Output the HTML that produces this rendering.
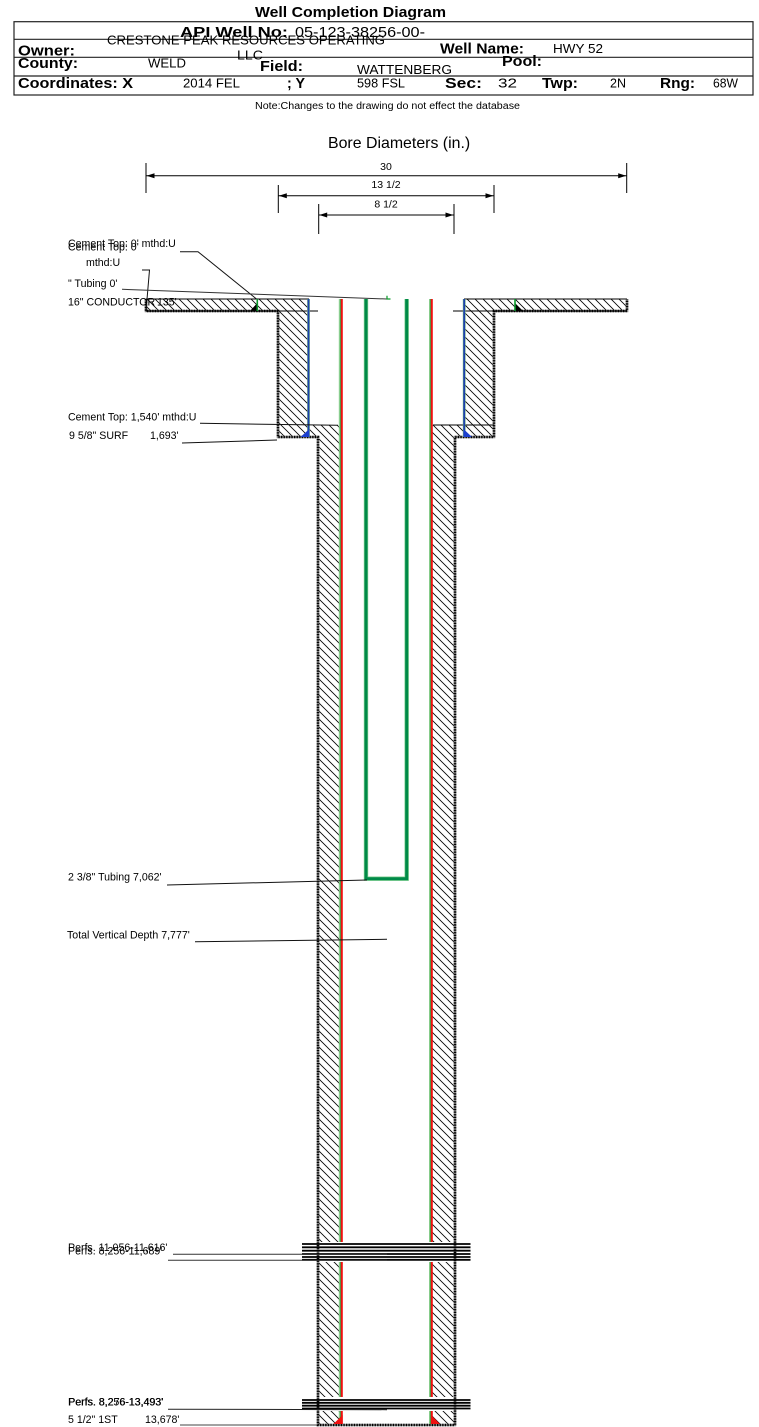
<!DOCTYPE html>
<html>
<head>
<meta charset="utf-8">
<style>
html,body{margin:0;padding:0;background:#fff;}
svg{display:block;}
text{font-family:"Liberation Sans",Arial,sans-serif;fill:#000;}
.b{font-weight:bold;}
.h{font-size:14.5px;}
.v{font-size:12.5px;}
.s{font-size:10.6px;}
</style>
</head>
<body>
<svg width="759" height="1427" viewBox="0 0 759 1427" xmlns="http://www.w3.org/2000/svg">
<defs>
<pattern id="hp" width="8" height="8" patternUnits="userSpaceOnUse">
<path d="M0,0L8,8M-1,7L1,9M7,-1L9,1" stroke="#000" stroke-width="0.8" fill="none"/>
</pattern>
</defs>
<rect width="759" height="1427" fill="#fff"/>

<!-- Title & header table -->
<text class="b" x="255" y="17" font-size="15" textLength="191" lengthAdjust="spacingAndGlyphs">Well Completion Diagram</text>
<g stroke="#222" stroke-width="1.2" fill="none">
<rect x="14" y="21.7" width="739" height="73.3"/>
<line x1="14" y1="39.3" x2="753" y2="39.3"/>
<line x1="14" y1="57.3" x2="753" y2="57.3"/>
<line x1="14" y1="76" x2="753" y2="76"/>
</g>
<text class="b h" x="180" y="37" textLength="108" lengthAdjust="spacingAndGlyphs">API Well No:</text>
<text class="h" x="295" y="37" font-weight="normal" textLength="130" lengthAdjust="spacingAndGlyphs">05-123-38256-00-</text>
<text class="v" x="107" y="44.5" textLength="278" lengthAdjust="spacingAndGlyphs">CRESTONE PEAK RESOURCES OPERATING</text>
<text class="v" x="237" y="59.5" textLength="26" lengthAdjust="spacingAndGlyphs">LLC</text>
<text class="b h" x="18" y="55.5" textLength="57" lengthAdjust="spacingAndGlyphs">Owner:</text>
<text class="b h" x="440" y="53.5" textLength="84" lengthAdjust="spacingAndGlyphs">Well Name:</text>
<text class="v" x="553" y="53" textLength="50" lengthAdjust="spacingAndGlyphs">HWY 52</text>
<text class="b h" x="18" y="68" textLength="60" lengthAdjust="spacingAndGlyphs">County:</text>
<text class="v" x="148" y="67.5" textLength="38" lengthAdjust="spacingAndGlyphs">WELD</text>
<text class="b h" x="260" y="71" textLength="43" lengthAdjust="spacingAndGlyphs">Field:</text>
<text class="v" x="357" y="74" textLength="95" lengthAdjust="spacingAndGlyphs">WATTENBERG</text>
<text class="b h" x="502" y="66" textLength="40" lengthAdjust="spacingAndGlyphs">Pool:</text>
<text class="b h" x="18" y="88" textLength="115" lengthAdjust="spacingAndGlyphs">Coordinates: X</text>
<text class="v" x="183" y="87.5" textLength="57" lengthAdjust="spacingAndGlyphs">2014 FEL</text>
<text class="b h" x="287" y="88" textLength="18" lengthAdjust="spacingAndGlyphs">; Y</text>
<text class="v" x="357" y="87.5" textLength="48" lengthAdjust="spacingAndGlyphs">598 FSL</text>
<text class="b h" x="445" y="88" textLength="37" lengthAdjust="spacingAndGlyphs">Sec:</text>
<text class="v" x="498" y="87.5" textLength="19" lengthAdjust="spacingAndGlyphs">32</text>
<text class="b h" x="542" y="88" textLength="36" lengthAdjust="spacingAndGlyphs">Twp:</text>
<text class="v" x="610" y="87.5" textLength="16" lengthAdjust="spacingAndGlyphs">2N</text>
<text class="b h" x="660" y="88" textLength="35" lengthAdjust="spacingAndGlyphs">Rng:</text>
<text class="v" x="713" y="87.5" textLength="25" lengthAdjust="spacingAndGlyphs">68W</text>
<text x="255" y="109" font-size="9.8" textLength="265" lengthAdjust="spacingAndGlyphs">Note:Changes to the drawing do not effect the database</text>

<!-- Bore diameters -->
<text x="328" y="148" font-size="15.9">Bore Diameters (in.)</text>
<g stroke="#000" stroke-width="1" fill="none">
<line x1="146" y1="175.7" x2="626.7" y2="175.7"/>
<line x1="146" y1="163" x2="146" y2="193"/>
<line x1="626.7" y1="163" x2="626.7" y2="193"/>
<line x1="278.3" y1="195.7" x2="494" y2="195.7"/>
<line x1="278.3" y1="185" x2="278.3" y2="213"/>
<line x1="494" y1="185" x2="494" y2="213"/>
<line x1="318.7" y1="215" x2="454" y2="215"/>
<line x1="318.7" y1="204" x2="318.7" y2="234"/>
<line x1="454" y1="204" x2="454" y2="234"/>
</g>
<g fill="#000">
<polygon points="146.5,175.7 154.5,173.2 154.5,178.2"/>
<polygon points="626.2,175.7 618.2,173.2 618.2,178.2"/>
<polygon points="278.8,195.7 286.8,193.2 286.8,198.2"/>
<polygon points="493.5,195.7 485.5,193.2 485.5,198.2"/>
<polygon points="319.2,215 327.2,212.5 327.2,217.5"/>
<polygon points="453.5,215 445.5,212.5 445.5,217.5"/>
</g>
<text x="386" y="170" font-size="10.5" text-anchor="middle">30</text>
<text x="386" y="188" font-size="10.5" text-anchor="middle">13 1/2</text>
<text x="386" y="207.7" font-size="10.5" text-anchor="middle">8 1/2</text>

<!-- Hatched cement regions -->
<g fill="url(#hp)">
<rect x="146" y="299" width="163" height="12"/>
<rect x="278" y="311" width="31" height="114"/>
<rect x="278" y="425" width="62" height="12"/>
<rect x="318" y="437" width="22" height="805"/>
<rect x="318" y="1262" width="22" height="135"/>
<rect x="318" y="1411" width="22" height="13"/>
<rect x="464" y="299" width="163" height="12"/>
<rect x="464" y="311" width="30" height="114"/>
<rect x="432" y="425" width="62" height="12"/>
<rect x="432" y="437" width="23" height="805"/>
<rect x="432" y="1262" width="23" height="135"/>
<rect x="432" y="1411" width="23" height="13"/>
</g>

<!-- Outer boundary (cement / hole wall) -->
<path d="M146,299 L146,311 L278,311 L278,437 L318,437 L318,1425 L455,1425 L455,437 L494,437 L494,311 L627,311 L627,299" fill="none" stroke="#888" stroke-width="2.6"/>
<path d="M146,299 L146,311 L278,311 L278,437 L318,437 L318,1425 L455,1425 L455,437 L494,437 L494,311 L627,311 L627,299" fill="none" stroke="#000" stroke-width="2.6" stroke-dasharray="1.3 1.3"/>
<g stroke="#000" stroke-width="1.1">
<line x1="146" y1="299" x2="309" y2="299"/>
<line x1="464" y1="299" x2="627" y2="299"/>
<line x1="146" y1="311" x2="318" y2="311"/>
<line x1="453" y1="311" x2="627" y2="311"/>
<line x1="433" y1="425" x2="494" y2="425"/>
</g>

<!-- Surface casing (blue) -->
<g stroke="#7fbf7f" stroke-width="2.8">
<line x1="308.5" y1="299" x2="308.5" y2="437"/>
<line x1="464.2" y1="299" x2="464.2" y2="437"/>
</g>
<g stroke="#1c3fae" stroke-width="1.8">
<line x1="308.5" y1="299" x2="308.5" y2="437"/>
<line x1="464.2" y1="299" x2="464.2" y2="437"/>
</g>
<polygon points="300.5,437 309.3,437 309.3,429" fill="#1c3fce"/>
<polygon points="463.5,437 472,437 463.5,429" fill="#1c3fce"/>

<!-- Conductor cement top markers -->
<polygon points="250,311 257.3,311 257.3,303" fill="#000"/>
<line x1="257.3" y1="299" x2="257.3" y2="311" stroke="#0a9a2a" stroke-width="1.6"/>
<polygon points="515,303 515,311 523,311" fill="#000"/>
<line x1="515" y1="299" x2="515" y2="311" stroke="#0a9a2a" stroke-width="1.6"/>

<!-- Production casing (red) -->
<g stroke="#8fd08f" stroke-width="1">
<line x1="339.3" y1="299" x2="339.3" y2="1242"/>
<line x1="339.3" y1="1262" x2="339.3" y2="1397"/>
<line x1="339.3" y1="1411" x2="339.3" y2="1424"/>
<line x1="429.6" y1="299" x2="429.6" y2="1242"/>
<line x1="429.6" y1="1262" x2="429.6" y2="1397"/>
<line x1="429.6" y1="1411" x2="429.6" y2="1424"/>
</g>
<g stroke="#0a9a2a" stroke-width="0.9">
<line x1="340.3" y1="299" x2="340.3" y2="1242"/>
<line x1="340.3" y1="1262" x2="340.3" y2="1397"/>
<line x1="340.3" y1="1411" x2="340.3" y2="1424"/>
<line x1="430.3" y1="299" x2="430.3" y2="1242"/>
<line x1="430.3" y1="1262" x2="430.3" y2="1397"/>
<line x1="430.3" y1="1411" x2="430.3" y2="1424"/>
</g>
<g stroke="#f01010" stroke-width="2">
<line x1="341.8" y1="299" x2="341.8" y2="1242"/>
<line x1="341.8" y1="1262" x2="341.8" y2="1397"/>
<line x1="341.8" y1="1411" x2="341.8" y2="1424"/>
<line x1="431.8" y1="299" x2="431.8" y2="1242"/>
<line x1="431.8" y1="1262" x2="431.8" y2="1397"/>
<line x1="431.8" y1="1411" x2="431.8" y2="1424"/>
</g>
<polygon points="333.3,1424 342.7,1424 342.7,1415" fill="#f01010"/>
<polygon points="431,1415 431,1424 440,1424" fill="#f01010"/>

<!-- Tubing (green) -->
<path d="M366,299 L366,878.7 L406.7,878.7 L406.7,299" fill="none" stroke="#7fcf8f" stroke-width="4.4"/>
<path d="M366,299 L366,878.7 L406.7,878.7 L406.7,299" fill="none" stroke="#008a48" stroke-width="3"/>

<!-- Perforations -->
<g stroke="#000" stroke-width="1.8">
<line x1="302" y1="1244" x2="470.5" y2="1244"/>
<line x1="302" y1="1247.3" x2="470.5" y2="1247.3"/>
<line x1="302" y1="1250.7" x2="470.5" y2="1250.7"/>
<line x1="302" y1="1254" x2="470.5" y2="1254"/>
<line x1="302" y1="1257" x2="470.5" y2="1257"/>
<line x1="302" y1="1259.8" x2="470.5" y2="1259.8"/>
<line x1="302" y1="1400" x2="470.5" y2="1400"/>
<line x1="302" y1="1402.8" x2="470.5" y2="1402.8"/>
<line x1="302" y1="1405.7" x2="470.5" y2="1405.7"/>
<line x1="302" y1="1408.5" x2="470.5" y2="1408.5"/>
</g>

<!-- Leader lines -->
<g stroke="#111" stroke-width="1" fill="none">
<path d="M180,251.7 L198,251.7 L256.5,299"/>
<path d="M142,270 L149.5,270 L146,311"/>
<path d="M122,289.3 L386.7,299" stroke="#333"/>
<path d="M200,423.3 L338,425.3"/>
<path d="M182,443 L277,440"/>
<path d="M167,885 L367,880"/>
<path d="M195,941.7 L387,939.3"/>
<path d="M173,1254.3 L387,1254.3" stroke="#333"/>
<path d="M168,1260.3 L387,1260.3" stroke="#333"/>
<path d="M168,1409.2 L387,1409.7" stroke="#222"/>
<path d="M180,1425 L317,1425" stroke="#444"/>
</g>
<path d="M387,295.7 L387,299 L390.5,299" stroke="#0a9a2a" stroke-width="1.2" fill="none"/>

<!-- Labels -->
<text class="s" x="68" y="247">Cement Top: 0' mthd:U</text>
<text class="s" x="68" y="250.5">Cement Top: 0'</text>
<text class="s" x="86" y="266">mthd:U</text>
<text class="s" x="68" y="287">" Tubing 0'</text>
<text class="s" x="68" y="305.5">16" CONDUCTOR</text>
<text class="s" x="157" y="305.5">135'</text>
<text class="s" x="68" y="420.5">Cement Top: 1,540' mthd:U</text>
<text class="s" x="69" y="439">9 5/8" SURF</text>
<text class="s" x="150" y="439">1,693'</text>
<text class="s" x="68" y="880.5">2 3/8" Tubing 7,062'</text>
<text class="s" x="67" y="938.5">Total Vertical Depth 7,777'</text>
<text class="s" x="68" y="1251">Perfs. 11,056-11,616'</text>
<text class="s" x="68" y="1254.5">Perfs. 8,256-11,689'</text>
<text class="s" x="68" y="1405.5">Perfs. 8,256-13,493'</text>
<text class="s" x="68.4" y="1405.5">Perfs. 8,276-13,493'</text>
<text class="s" x="68" y="1423">5 1/2" 1ST</text>
<text class="s" x="145" y="1423">13,678'</text>
</svg>
</body>
</html>
